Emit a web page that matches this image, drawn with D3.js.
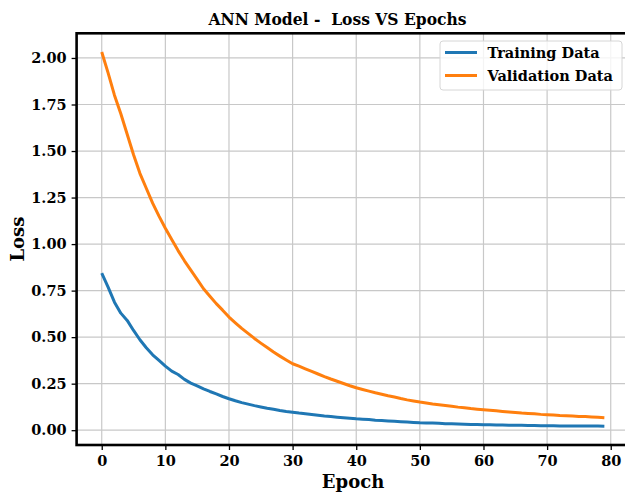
<!DOCTYPE html>
<html>
<head>
<meta charset="utf-8">
<script src="https://cdn.jsdelivr.net/npm/d3@7"></script>
<style>
  body { margin: 0; background: #fff; }
  text { font-family: "DejaVu Serif", serif; font-weight: bold; }
</style>
</head>
<body>
<script>
// loss per epoch
var training = [0.844, 0.769, 0.688, 0.629, 0.590, 0.536, 0.486, 0.443, 0.405, 0.375,
                0.344, 0.317, 0.299, 0.273, 0.253, 0.238, 0.222, 0.208, 0.195, 0.181,
                0.169, 0.158, 0.148, 0.140, 0.132, 0.125, 0.118, 0.112, 0.106, 0.101,
                0.097, 0.092, 0.088, 0.084, 0.080, 0.076, 0.073, 0.070, 0.067, 0.064,
                0.061, 0.059, 0.057, 0.054, 0.052, 0.050, 0.048, 0.046, 0.044, 0.042,
                0.040, 0.039, 0.038, 0.037, 0.035, 0.034, 0.033, 0.032, 0.031, 0.030,
                0.029, 0.029, 0.028, 0.028, 0.027, 0.026, 0.026, 0.025, 0.025, 0.024,
                0.024, 0.024, 0.023, 0.023, 0.023, 0.022, 0.022, 0.022, 0.022, 0.021];
var validation = [2.032, 1.920, 1.800, 1.700, 1.590, 1.480, 1.380, 1.300, 1.220, 1.150,
                  1.085, 1.025, 0.965, 0.910, 0.860, 0.810, 0.760, 0.720, 0.680, 0.645,
                  0.608, 0.577, 0.547, 0.520, 0.493, 0.468, 0.444, 0.420, 0.398, 0.377,
                  0.357, 0.344, 0.330, 0.316, 0.302, 0.288, 0.275, 0.263, 0.251, 0.239,
                  0.228, 0.219, 0.210, 0.201, 0.193, 0.185, 0.178, 0.170, 0.163, 0.157,
                  0.151, 0.146, 0.141, 0.137, 0.133, 0.129, 0.124, 0.120, 0.116, 0.113,
                  0.110, 0.107, 0.104, 0.101, 0.098, 0.095, 0.092, 0.090, 0.088, 0.085,
                  0.083, 0.081, 0.079, 0.078, 0.076, 0.074, 0.073, 0.071, 0.069, 0.067];
var xTicks = [0, 10, 20, 30, 40, 50, 60, 70, 80];
var yTicks = [0, 0.25, 0.5, 0.75, 1.0, 1.25, 1.5, 1.75, 2.0];
var seriesNames = ["Training Data", "Validation Data"];
var colors = ["#1f77b4", "#ff7f0e"];

var w = 625, h = 492;
var plotL = 76.6, plotR = 629.5, plotT = 33.3, plotB = 445;

var svg = d3.select("body").append("svg")
  .attr("width", w).attr("height", h);

// matplotlib-like 5% margins
var n = training.length;
var xPad = (n - 1) * 0.05;
var x = d3.scaleLinear().domain([-xPad, n - 1 + xPad]).range([plotL, plotR]);
var all = training.concat(validation);
var ymin = d3.min(all), ymax = d3.max(all), yPad = (ymax - ymin) * 0.05;
var y = d3.scaleLinear().domain([ymin - yPad, ymax + yPad]).range([plotB, plotT]);

// grid
svg.append("g").selectAll("line").data(xTicks).enter().append("line")
  .attr("x1", function(d) { return x(d); }).attr("x2", function(d) { return x(d); })
  .attr("y1", plotT).attr("y2", plotB)
  .attr("stroke", "#c8c8c8").attr("stroke-width", 1.2);
svg.append("g").selectAll("line").data(yTicks).enter().append("line")
  .attr("y1", function(d) { return y(d); }).attr("y2", function(d) { return y(d); })
  .attr("x1", plotL).attr("x2", plotR)
  .attr("stroke", "#c8c8c8").attr("stroke-width", 1.2);

// lines
var line = d3.line()
  .x(function(d, i) { return x(i); })
  .y(function(d) { return y(d); });
[training, validation].forEach(function(s, k) {
  svg.append("path").datum(s)
    .attr("fill", "none")
    .attr("stroke", colors[k])
    .attr("stroke-width", 3)
    .attr("stroke-linejoin", "round")
    .attr("d", line);
});

// axes
var xAxis = svg.append("g").attr("transform", "translate(0," + plotB + ")")
  .call(d3.axisBottom(x).tickValues(xTicks).tickSize(5).tickPadding(6).tickFormat(d3.format("d")));
var yAxis = svg.append("g").attr("transform", "translate(" + plotL + ",0)")
  .call(d3.axisLeft(y).tickValues(yTicks).tickSize(5).tickPadding(5).tickFormat(d3.format(".2f")));
[xAxis, yAxis].forEach(function(a) {
  a.select(".domain").remove();
  a.selectAll(".tick line").attr("stroke", "#000").attr("stroke-width", 1.3);
  a.selectAll(".tick text").attr("fill", "#000").style("font-size", "14.5px")
    .style("font-family", "'DejaVu Serif', serif").style("font-weight", "bold");
});

// spines
svg.append("rect")
  .attr("x", plotL).attr("y", plotT)
  .attr("width", plotR - plotL).attr("height", plotB - plotT)
  .attr("fill", "none").attr("stroke", "#000").attr("stroke-width", 2.6);

// title and labels
svg.append("text").attr("x", 337.5).attr("y", 25)
  .attr("text-anchor", "middle").style("font-size", "17px").style("white-space", "pre")
  .attr("textLength", 258).attr("lengthAdjust", "spacingAndGlyphs")
  .text("ANN Model -  Loss VS Epochs");
svg.append("text").attr("x", (plotL + plotR) / 2).attr("y", 488)
  .attr("text-anchor", "middle").style("font-size", "18px").text("Epoch");
svg.append("text").attr("transform", "translate(24," + ((plotT + plotB) / 2) + ") rotate(-90)")
  .attr("text-anchor", "middle").style("font-size", "18px").text("Loss");

// legend
var lg = svg.append("g").attr("transform", "translate(440,41)");
lg.append("rect").attr("width", 182).attr("height", 49).attr("rx", 3)
  .attr("fill", "#fff").attr("fill-opacity", 0.8)
  .attr("stroke", "#d6d6d6").attr("stroke-width", 1);
seriesNames.forEach(function(name, k) {
  var ry = 11.5 + k * 23;
  lg.append("line").attr("x1", 5).attr("x2", 37).attr("y1", ry).attr("y2", ry)
    .attr("stroke", colors[k]).attr("stroke-width", 3);
  lg.append("text").attr("x", 47.5).attr("y", ry + 5).style("font-size", "14.5px").text(name);
});
</script>
</body>
</html>
